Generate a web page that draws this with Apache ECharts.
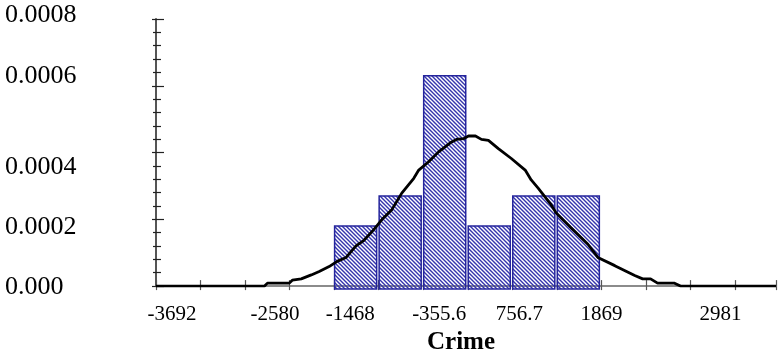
<!DOCTYPE html>
<html>
<head>
<meta charset="utf-8">
<script src="https://cdn.jsdelivr.net/npm/echarts@6/dist/echarts.min.js"></script>
<style>
  html, body { margin: 0; padding: 0; background: #fff; }
  #chart { width: 779px; height: 360px; }
</style>
</head>
<body>
<div id="chart"></div>
<script>
// histogram bins (left edge, right edge) and density heights
const binStart = [-1468, -911.8, -355.6, 200.6, 756.7, 1312.9];
const binEnd = [-911.8, -355.6, 200.6, 756.7, 1312.9, 1869];
const density = [0.00018, 0.00027, 0.00063, 0.00018, 0.00027, 0.00027];

// fitted curve
const curveX = [-3692, -2337, -2300, -2027, -1990, -1878, -1753, -1654, -1530, -1430,
  -1318, -1194, -1095, -970, -871, -747, -623, -473, -411, -287,
  -163, -1, 61, 148, 210, 297, 372, 459, 583, 745,
  918, 993, 1080, 1241, 1304, 1490, 1701, 1826, 2037, 2286,
  2385, 2484, 2571, 2783, 2857, 4050];
const curveY = [0, 0, 0.0000089, 0.0000089, 0.0000178, 0.0000216, 0.0000335, 0.0000436, 0.0000584, 0.0000741,
  0.0000859, 0.0001206, 0.0001372, 0.0001698, 0.0001994, 0.000229, 0.0002785, 0.000323, 0.0003475, 0.0003724,
  0.000402, 0.0004317, 0.0004394, 0.0004415, 0.0004495, 0.0004495, 0.0004394, 0.0004364, 0.0004119, 0.0003822,
  0.0003475, 0.0003179, 0.0002933, 0.0002439, 0.0002193, 0.0001748, 0.0001253, 0.0000859, 0.0000613, 0.0000317,
  0.0000216, 0.0000216, 0.0000089, 0.0000089, 0, 0];

const xTickLabels = ['-3692', '-2580', '-1468', '-355.6', '756.7', '1869', '2981'];
const yTickLabels = ['0.000', '0.0002', '0.0004', '0.0006', '0.0008'];

const xMin = -3692, xMax = 4050, xStep = 556.2;
const serif = 'Liberation Serif';

// label nudges so they sit where the original put them
const xShift = [16, 30, 16, 16, 7, 0, 30];
const yShift = [1, 8, 15, -10, -4];

function hatch() {
  const c = document.createElement('canvas');
  c.width = 4; c.height = 4;
  const g = c.getContext('2d');
  g.strokeStyle = '#3434ac';
  g.lineWidth = 1.4;
  g.beginPath();
  g.moveTo(-1, -1); g.lineTo(5, 5);
  g.moveTo(-1, 3); g.lineTo(1, 5);
  g.moveTo(3, -1); g.lineTo(5, 1);
  g.stroke();
  return { image: c, repeat: 'repeat' };
}
const hatchFill = hatch();

const xRich = {}, yRich = {};
xShift.forEach((d, i) => {
  xRich['x' + i] = { fontFamily: serif, fontSize: 21, color: '#000', padding: [0, 0, 0, 2 * d] };
});
yShift.forEach((d, i) => {
  yRich['y' + i] = { fontFamily: serif, fontSize: 26, color: '#000',
    padding: d >= 0 ? [2 * d, 0, 0, 0] : [0, 0, -2 * d, 0] };
});

function xLabel(v) {
  const k = Math.round((v - xMin) / xStep);
  if (Math.abs(v - (xMin + k * xStep)) > 1 || k % 2) return '';
  const i = k / 2;
  return i < xTickLabels.length ? `{x${i}|${xTickLabels[i]}}` : '';
}

function yLabel(v) {
  const i = Math.round(v / 0.0002);
  return `{y${i}|${yTickLabels[i]}}`;
}

const chart = echarts.init(document.getElementById('chart'), null, { renderer: 'canvas' });

const xBase = { type: 'value', min: xMin, max: xMax, interval: xStep, splitLine: { show: false } };
const yBase = { type: 'value', min: 0, max: 0.0008, interval: 0.0002, splitLine: { show: false } };

chart.setOption({
  animation: false,
  grid: { left: 156, right: 0, top: 19, bottom: 71, containLabel: false },
  xAxis: [
    Object.assign({}, xBase, {
      position: 'bottom',
      name: 'Crime',
      nameLocation: 'middle',
      nameGap: 41,
      nameTextStyle: { fontFamily: serif, fontSize: 25, fontWeight: 'bold', color: '#000', padding: [0, 10, 0, 0] },
      axisLine: { show: true, onZero: false, lineStyle: { color: '#666', width: 1.5 } },
      axisTick: { show: true, inside: true, length: 6, lineStyle: { color: '#555', width: 1.2 } },
      axisLabel: { formatter: xLabel, margin: 18, rich: xRich }
    }),
    Object.assign({}, xBase, {
      position: 'bottom',
      offset: 0,
      axisLine: { show: false, onZero: false },
      axisTick: { show: true, inside: false, length: 4, lineStyle: { color: '#555', width: 1.2 } },
      axisLabel: { show: false }
    })
  ],
  yAxis: [
    Object.assign({}, yBase, {
      position: 'left',
      axisLine: { show: true, onZero: false, lineStyle: { color: '#555', width: 2 } },
      axisTick: { show: true, inside: true, length: 8, lineStyle: { color: '#222', width: 1.2 } },
      minorTick: { show: true, splitNumber: 5, length: 5, lineStyle: { color: '#222', width: 1.2 } },
      axisLabel: { formatter: yLabel, align: 'left', margin: 151, rich: yRich }
    }),
    Object.assign({}, yBase, {
      position: 'left',
      offset: 0,
      axisLine: { show: false, onZero: false },
      axisTick: { show: true, inside: false, length: 4, lineStyle: { color: '#222', width: 1.2 } },
      minorTick: { show: true, splitNumber: 5, length: 3, lineStyle: { color: '#222', width: 1.2 } },
      axisLabel: { show: false }
    })
  ],
  series: [
    {
      type: 'custom',
      xAxisIndex: 0,
      yAxisIndex: 0,
      data: binStart.map((s, i) => [s, binEnd[i], density[i]]),
      renderItem: (params, api) => {
        const top = api.coord([api.value(0), api.value(2)]);
        const bottom = api.coord([api.value(1), 0]);
        return {
          type: 'rect',
          shape: { x: top[0] + 0.5, y: top[1], width: bottom[0] - top[0] - 2.5, height: bottom[1] - top[1] + 3 },
          style: { fill: hatchFill, stroke: '#24249c', lineWidth: 1.5 }
        };
      },
      z: 2
    },
    {
      type: 'line',
      xAxisIndex: 0,
      yAxisIndex: 0,
      data: curveX.map((x, i) => [x, curveY[i]]),
      symbol: 'none',
      lineStyle: { color: '#000', width: 2.8 },
      z: 3
    }
  ]
});
</script>
</body>
</html>
